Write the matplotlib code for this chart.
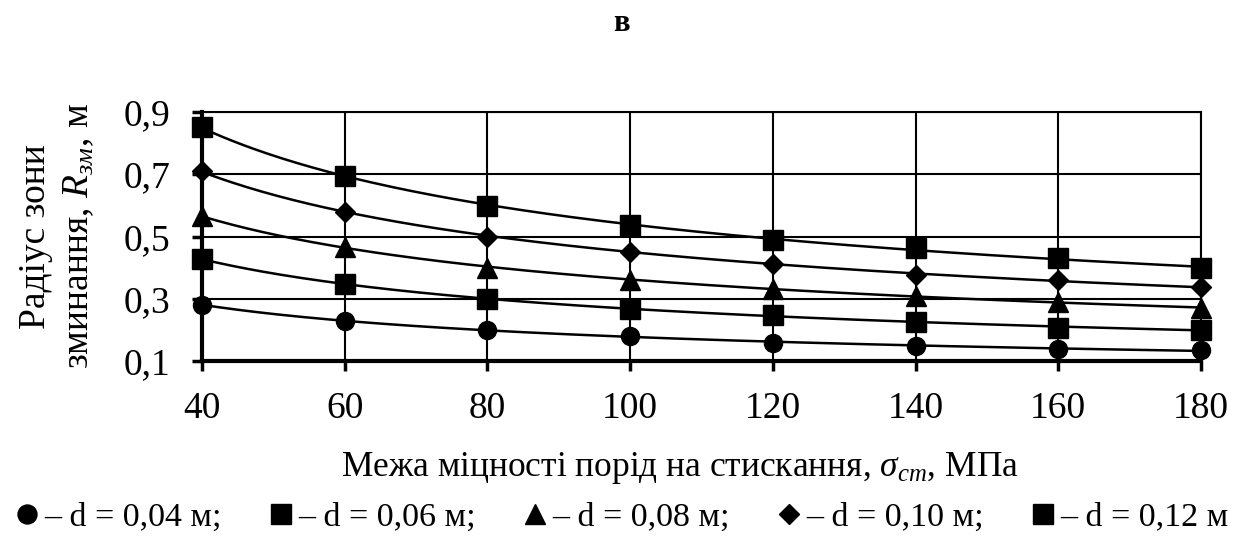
import numpy as np
import matplotlib
matplotlib.use('Agg')
import matplotlib.pyplot as plt
from matplotlib.lines import Line2D

plt.rcParams['font.family'] = ['Liberation Serif', 'DejaVu Serif']
plt.rcParams['mathtext.fontset'] = 'custom'
plt.rcParams['mathtext.rm'] = 'Liberation Serif'
plt.rcParams['mathtext.it'] = 'Liberation Serif:italic'

# compressive strength, MPa
sigma = [40, 60, 80, 100, 120, 140, 160, 180]

# crushing zone radius, m, for each hole diameter
r_004 = [0.28, 0.23, 0.20, 0.18, 0.158, 0.148, 0.14, 0.135]
r_006 = [0.427, 0.347, 0.30, 0.267, 0.247, 0.226, 0.207, 0.20]
r_008 = [0.565, 0.467, 0.40, 0.36, 0.33, 0.31, 0.29, 0.27]
r_010 = [0.71, 0.58, 0.50, 0.45, 0.413, 0.376, 0.36, 0.338]
r_012 = [0.853, 0.694, 0.598, 0.537, 0.488, 0.463, 0.43, 0.40]

series = [r_004, r_006, r_008, r_010, r_012]
labels = ['– d = 0,04 м;', '– d = 0,06 м;', '– d = 0,08 м;',
          '– d = 0,10 м;', '– d = 0,12 м']
markers = ['o', 's', '^', 'D', 's']
msizes = [13, 14, 14, 10, 14]

yticks = [0.1, 0.3, 0.5, 0.7, 0.9]
ytick_labels = ['0,1', '0,3', '0,5', '0,7', '0,9']
xticks = [40, 60, 80, 100, 120, 140, 160, 180]

fig = plt.figure(figsize=(12.42, 5.36), dpi=100)
ax = fig.add_axes([0.1626, 0.3265, 0.8044, 0.4645])

x = np.array(sigma, dtype=float)
xs = np.linspace(x.min(), x.max(), 200)
for y, m, ms in zip(series, markers, msizes):
    # power trendline through the points
    b, a = np.polyfit(np.log(x), np.log(y), 1)
    ax.plot(xs, np.exp(a) * xs**b, color='black', lw=1.8, zorder=3)
    ax.plot(x, y, linestyle='none', marker=m, ms=ms, color='black',
            clip_on=False, zorder=4)

ax.set_xlim(40, 180)
ax.set_ylim(0.1, 0.9)
ax.set_xticks(xticks)
ax.set_yticks(yticks)
ax.set_yticklabels(ytick_labels)
ax.grid(True, color='black', lw=1.5)
ax.set_axisbelow(True)
for side in ['top', 'right']:
    ax.spines[side].set_linewidth(1.5)
for side in ['left', 'bottom']:
    ax.spines[side].set_linewidth(3)
ax.tick_params(axis='both', labelsize=27, width=2.5, length=7, direction='out')
ax.tick_params(axis='x', pad=15)
ax.tick_params(axis='y', pad=16)

ax.set_ylabel('Радіус зони\nзминання, $R_{зм}$, м', fontsize=27, linespacing=1.3)
ax.yaxis.set_label_coords(-0.106, 0.5)
ax.set_xlabel('Межа міцності порід на стискання, $\\sigma_{cm}$, МПа', fontsize=25.5)
ax.xaxis.set_label_coords(0.478, -0.357)

fig.text(0.5, 0.957, 'в', ha='center', va='center', fontsize=22, fontweight='bold')

handles = [Line2D([], [], linestyle='none', marker=m, ms=ms * 1.05, color='black')
           for m, ms in zip(markers, msizes)]
fig.legend(handles, labels, loc='center', bbox_to_anchor=(0.5, 0.035), ncol=5,
           frameon=False, fontsize=24.5, handletextpad=0.1, columnspacing=1.35,
           handlelength=0.8, borderaxespad=0)

fig.savefig('out.png', dpi=100)
